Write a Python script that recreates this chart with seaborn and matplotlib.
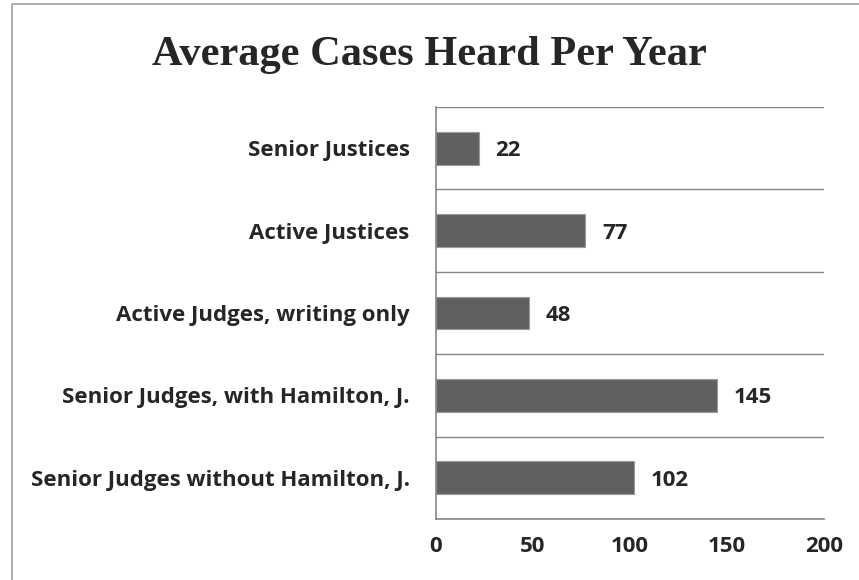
import numpy as np
import pandas as pd
import seaborn as sns
from matplotlib import pyplot as plt
from matplotlib.patches import Rectangle

categories = ['Senior Justices', 'Active Justices', 'Active Judges, writing only',
              'Senior Judges, with Hamilton, J.', 'Senior Judges without Hamilton, J.']
cases = [22, 77, 48, 145, 102]
x_ticks = [0, 50, 100, 150, 200]

sns.set_style('white')
plt.rcParams['font.family'] = ['Open Sans', 'DejaVu Sans']

df = pd.DataFrame({'category': categories, 'cases': cases})

fig = plt.figure(figsize=(8.59, 5.8), dpi=100)
ax = fig.add_axes([0.5076, 0.1052, 0.4517, 0.7103])

sns.barplot(data=df, y='category', x='cases', orient='h', color='#606060',
            width=0.4, edgecolor='#9a9a9a', linewidth=0.8, saturation=1, ax=ax)

lbl_size = 16
ax.set_xlim(0, 200)
ax.set_ylim(len(categories) - 0.5, -0.5)
ax.set_xticks(x_ticks)
ax.set_xticklabels([str(t) for t in x_ticks], fontsize=lbl_size, fontweight='bold')
ax.set_yticks(range(len(categories)))
ax.set_yticklabels(categories, fontsize=lbl_size, fontweight='bold')
ax.set_yticks(np.arange(-0.5, len(categories), 1), minor=True)
ax.tick_params(axis='y', which='major', length=0, pad=19)
ax.tick_params(axis='y', which='minor', length=6, width=1, color='#868686', direction='out')
ax.tick_params(axis='x', which='major', length=6, width=1, color='#868686', direction='out', pad=6)
ax.grid(True, axis='y', which='minor', color='#868686', linewidth=1)
ax.grid(False, axis='x')
ax.set_xlabel('')
ax.set_ylabel('')

for side in ['top', 'right']:
    ax.spines[side].set_visible(False)
for side in ['left', 'bottom']:
    ax.spines[side].set_color('#868686')
    ax.spines[side].set_linewidth(1.2)

for i, v in enumerate(cases):
    ax.annotate(str(v), xy=(v, i), xytext=(12, 0), textcoords='offset points',
                va='center_baseline', ha='left', fontsize=lbl_size, fontweight='bold')

fig.text(0.5, 1 - 65 / 580, 'Average Cases Heard Per Year', ha='center', va='baseline',
         fontsize=30.5, fontweight='bold', family='Liberation Serif')

# chart frame (only the left and top edges fall inside the picture)
fig.patches.append(Rectangle((12 / 859, -0.05), 1.2, 1 - 4 / 580 + 0.05,
                             transform=fig.transFigure, fill=False,
                             edgecolor='#a0a0a0', linewidth=1.2))

plt.savefig('out.png', dpi=100)
